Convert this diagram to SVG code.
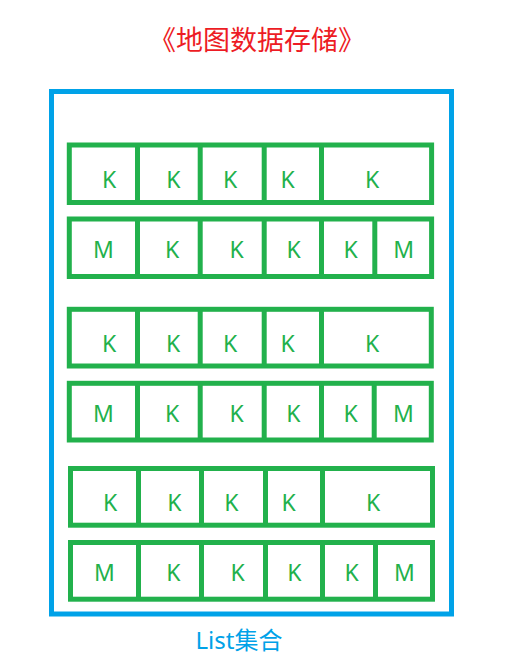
<svg xmlns="http://www.w3.org/2000/svg" width="514" height="670" viewBox="0 0 514 670">
<style>
.box{fill:none;stroke:#22B14C;stroke-width:5}
.div{stroke:#22B14C;stroke-width:5}
.lbl{font-family:"Noto Sans","Noto Sans CJK SC",sans-serif;font-size:23px;fill:#22B14C;text-anchor:middle}
.title{font-family:"Noto Sans CJK SC",sans-serif;font-size:27px;fill:#ED1C24;text-anchor:middle}
.cap{font-family:"Noto Sans","Noto Sans CJK SC",sans-serif;font-size:24px;fill:#00A2E8;text-anchor:middle}
</style>
<rect width="514" height="670" fill="#ffffff"/>
<text class="title" x="257" y="50">《地图数据存储》</text>
<g id="list">
<rect x="51.5" y="91.5" width="400" height="522.5" fill="none" stroke="#00A2E8" stroke-width="5"/>
</g>
<g id="row1">
<rect class="box" x="69.3" y="145" width="362.3" height="57.5"/>
<line class="div" x1="137.5" y1="145" x2="137.5" y2="202.5"/>
<line class="div" x1="200.2" y1="145" x2="200.2" y2="202.5"/>
<line class="div" x1="264.2" y1="145" x2="264.2" y2="202.5"/>
<line class="div" x1="321.5" y1="145" x2="321.5" y2="202.5"/>
<text class="lbl" x="109" y="188">K</text>
<text class="lbl" x="173.3" y="188">K</text>
<text class="lbl" x="230" y="188">K</text>
<text class="lbl" x="287.5" y="188">K</text>
<text class="lbl" x="372" y="188">K</text>
</g>
<g id="row2">
<rect class="box" x="69.3" y="219" width="362.3" height="57.5"/>
<line class="div" x1="137.5" y1="219" x2="137.5" y2="276.5"/>
<line class="div" x1="200.2" y1="219" x2="200.2" y2="276.5"/>
<line class="div" x1="264.2" y1="219" x2="264.2" y2="276.5"/>
<line class="div" x1="321.5" y1="219" x2="321.5" y2="276.5"/>
<line class="div" x1="374.8" y1="219" x2="374.8" y2="276.5"/>
<text class="lbl" x="103.5" y="258.3">M</text>
<text class="lbl" x="172" y="258.3">K</text>
<text class="lbl" x="236.7" y="258.3">K</text>
<text class="lbl" x="293.5" y="258.3">K</text>
<text class="lbl" x="350.7" y="258.3">K</text>
<text class="lbl" x="403.7" y="258.3">M</text>
</g>
<g id="row3">
<rect class="box" x="69.3" y="309.3" width="362" height="56.7"/>
<line class="div" x1="137.5" y1="309.3" x2="137.5" y2="366"/>
<line class="div" x1="200.2" y1="309.3" x2="200.2" y2="366"/>
<line class="div" x1="264.2" y1="309.3" x2="264.2" y2="366"/>
<line class="div" x1="321.5" y1="309.3" x2="321.5" y2="366"/>
<text class="lbl" x="109" y="352.3">K</text>
<text class="lbl" x="173" y="352.3">K</text>
<text class="lbl" x="230" y="352.3">K</text>
<text class="lbl" x="287.5" y="352.3">K</text>
<text class="lbl" x="372" y="352.3">K</text>
</g>
<g id="row4">
<rect class="box" x="69.3" y="383.3" width="362" height="56.7"/>
<line class="div" x1="137.5" y1="383.3" x2="137.5" y2="440"/>
<line class="div" x1="200.2" y1="383.3" x2="200.2" y2="440"/>
<line class="div" x1="264.2" y1="383.3" x2="264.2" y2="440"/>
<line class="div" x1="321.5" y1="383.3" x2="321.5" y2="440"/>
<line class="div" x1="374.2" y1="383.3" x2="374.2" y2="440"/>
<text class="lbl" x="103.5" y="421.7">M</text>
<text class="lbl" x="172" y="421.7">K</text>
<text class="lbl" x="236.7" y="421.7">K</text>
<text class="lbl" x="293.3" y="421.7">K</text>
<text class="lbl" x="350.7" y="421.7">K</text>
<text class="lbl" x="403.5" y="421.7">M</text>
</g>
<g id="row5">
<rect class="box" x="70.5" y="468.5" width="362" height="56.7"/>
<line class="div" x1="138.5" y1="468.5" x2="138.5" y2="525.2"/>
<line class="div" x1="201.5" y1="468.5" x2="201.5" y2="525.2"/>
<line class="div" x1="265.5" y1="468.5" x2="265.5" y2="525.2"/>
<line class="div" x1="322.5" y1="468.5" x2="322.5" y2="525.2"/>
<text class="lbl" x="110.2" y="511">K</text>
<text class="lbl" x="174.3" y="511">K</text>
<text class="lbl" x="231.3" y="511">K</text>
<text class="lbl" x="288.5" y="511">K</text>
<text class="lbl" x="373.2" y="511">K</text>
</g>
<g id="row6">
<rect class="box" x="70.5" y="542.5" width="362" height="56.7"/>
<line class="div" x1="138.5" y1="542.5" x2="138.5" y2="599.2"/>
<line class="div" x1="201.5" y1="542.5" x2="201.5" y2="599.2"/>
<line class="div" x1="265.5" y1="542.5" x2="265.5" y2="599.2"/>
<line class="div" x1="322.5" y1="542.5" x2="322.5" y2="599.2"/>
<line class="div" x1="375.5" y1="542.5" x2="375.5" y2="599.2"/>
<text class="lbl" x="104.5" y="581">M</text>
<text class="lbl" x="173.3" y="581">K</text>
<text class="lbl" x="237.5" y="581">K</text>
<text class="lbl" x="294.3" y="581">K</text>
<text class="lbl" x="351.7" y="581">K</text>
<text class="lbl" x="404.5" y="581">M</text>
</g>
<g id="connectors"></g>
<text class="cap" x="239" y="649">List集合</text>
</svg>
